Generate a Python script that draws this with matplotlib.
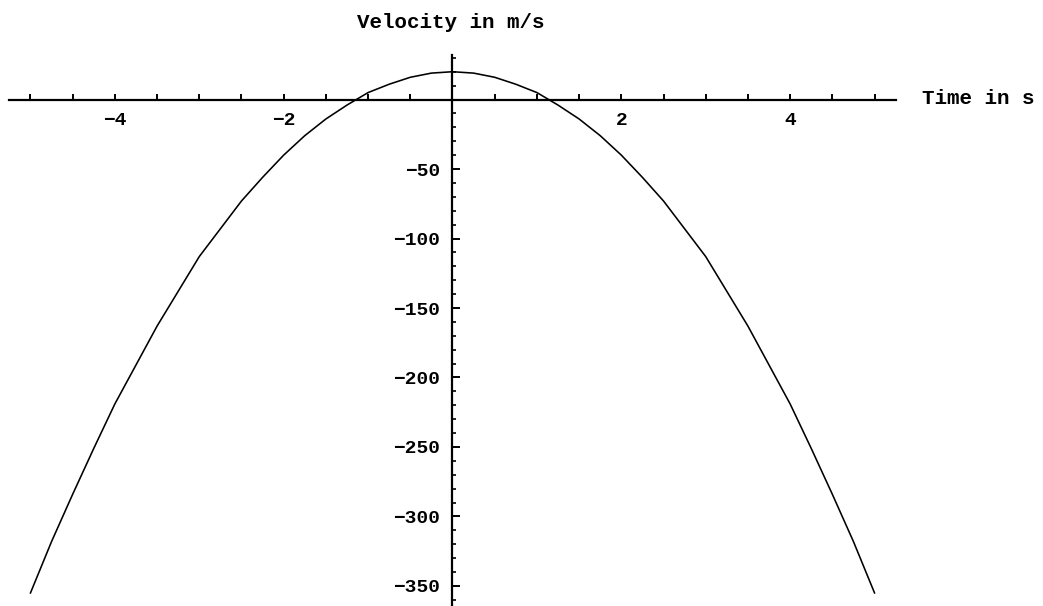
import matplotlib
matplotlib.use("Agg")
import matplotlib.pyplot as plt
import numpy as np
from matplotlib.ticker import FixedLocator

# Sampled velocity curve
time_s = [-5.0, -4.75, -4.5, -4.25, -4.0, -3.75, -3.5, -3.25, -3.0, -2.75,
          -2.5, -2.25, -2.0, -1.75, -1.5, -1.25, -1.0, -0.75, -0.5, -0.25,
          0.0, 0.25, 0.5, 0.75, 1.0, 1.25, 1.5, 1.75, 2.0, 2.25,
          2.5, 2.75, 3.0, 3.25, 3.5, 3.75, 4.0, 4.25, 4.5, 4.75, 5.0]
velocity = [-355, -318, -284, -251, -219, -191, -163, -138, -113, -93,
            -73, -56, -40, -26, -14, -4, 5, 11, 16, 19,
            20, 19, 16, 11, 5, -4, -14, -26, -40, -56,
            -73, -93, -113, -138, -163, -191, -219, -251, -284, -318, -355]

x_major_ticks = [-4, -2, 2, 4]
y_major_ticks = [-350, -300, -250, -200, -150, -100, -50]

plt.rcParams['font.family'] = ['Liberation Mono', 'DejaVu Sans Mono']
plt.rcParams['font.weight'] = 'bold'

fig = plt.figure(figsize=(10.43, 6.06), dpi=100)
ax = fig.add_axes([0, 0, 1, 1])
ax.set_xlim(-5.361, 6.996)
ax.set_ylim(-364.4, 71.6)

ax.plot(time_s, velocity, color='black', lw=1.15)

# Axes crossing at the origin
for side in ('top', 'right'):
    ax.spines[side].set_visible(False)
ax.spines['left'].set_position(('data', 0))
ax.spines['bottom'].set_position(('data', 0))
ax.spines['left'].set_bounds(-364.4, 32)
ax.spines['bottom'].set_bounds(-5.26, 5.26)
for side in ('left', 'bottom'):
    ax.spines[side].set_linewidth(1.6)

# Ticks only along the drawn extent of each axis
x_minor = np.arange(-5.0, 5.01, 0.5)
y_minor = np.arange(-360, 31, 10)
ax.xaxis.set_major_locator(FixedLocator(x_major_ticks))
ax.xaxis.set_minor_locator(FixedLocator(x_minor))
ax.yaxis.set_major_locator(FixedLocator(y_major_ticks))
ax.yaxis.set_minor_locator(FixedLocator(y_minor))

ax.tick_params(axis='x', which='both', direction='in', length=4.5, width=1.4,
               pad=9, labelsize=14)
ax.tick_params(axis='y', which='major', direction='in', length=5.5, width=1.4,
               pad=9, labelsize=14)
ax.tick_params(axis='y', which='minor', direction='in', length=3.2, width=1.2)

ax.set_xlabel('Time in s', fontsize=15, fontweight='bold', ha='left', va='center')
ax.xaxis.set_label_coords(922 / 1043, 1 - 99 / 606)
ax.set_ylabel('Velocity in m/s', fontsize=15, fontweight='bold', rotation=0,
              ha='center', va='center')
ax.yaxis.set_label_coords(451 / 1043, 1 - 23 / 606)

fig.savefig('out.png', dpi=100)
